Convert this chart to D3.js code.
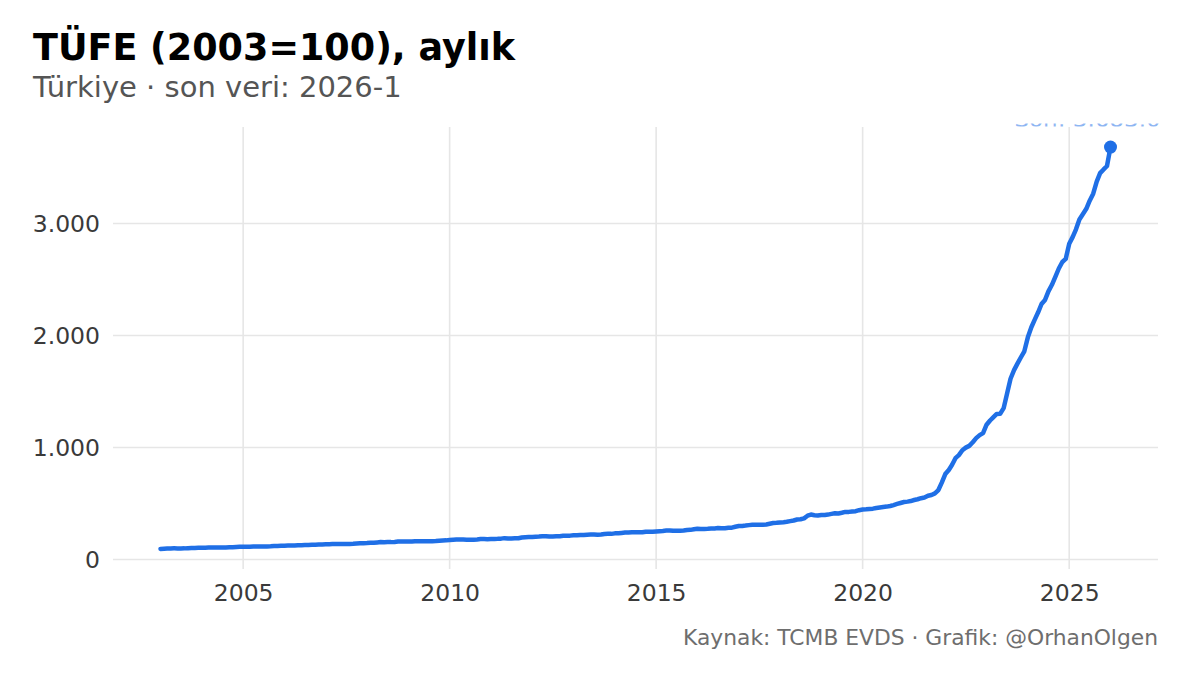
<!DOCTYPE html>
<html>
<head>
<meta charset="utf-8">
<script src="https://cdn.jsdelivr.net/npm/d3@7"></script>
<style>
    body { margin: 0; background: white; font-family: 'DejaVu Sans', sans-serif; }
</style>
</head>
<body>
<div id="chart-area"></div>
<script>

// TÜFE (2003=100) line chart, monthly

const firstYear = 2003;

// monthly index values, one row per year (Jan..Dec), last row = 2026
const tufe = [
    [94.6, 96.2, 97.9, 98.9, 99.4, 99.3, 99.1, 99.4, 101.1, 102.5, 103.6, 104.4],
    [105.0, 105.5, 106.3, 106.8, 107.3, 107.4, 107.6, 108.2, 109.0, 110.4, 112.0, 113.9],
    [114.4, 114.5, 114.8, 115.6, 116.5, 116.6, 116.2, 116.9, 118.0, 120.0, 121.4, 122.65],
    [123.6, 124.0, 124.4, 125.8, 127.9, 127.9, 129.1, 129.6, 131.0, 132.4, 134.0, 134.49],
    [135.2, 136.0, 137.5, 139.0, 139.4, 138.9, 138.2, 138.5, 139.9, 142.4, 144.6, 145.77],
    [146.9, 148.8, 150.3, 152.6, 155.3, 154.8, 155.5, 155.2, 156.6, 160.0, 161.1, 160.44],
    [160.9, 160.4, 162.1, 162.2, 163.2, 163.8, 163.4, 163.9, 164.9, 168.0, 170.7, 170.91],
    [174.1, 176.6, 177.6, 178.7, 178.0, 177.0, 176.2, 176.9, 179.1, 182.4, 182.4, 181.85],
    [182.6, 183.9, 184.7, 186.3, 190.8, 188.1, 187.3, 188.7, 189.9, 196.3, 199.7, 200.85],
    [201.9, 203.6, 205.0, 208.2, 207.9, 205.1, 204.8, 206.6, 208.1, 212.6, 213.2, 213.23],
    [216.7, 217.4, 219.8, 219.8, 222.0, 222.3, 223.0, 221.7, 224.1, 228.6, 229.0, 229.01],
    [233.5, 234.5, 237.2, 240.4, 241.3, 243.0, 243.0, 244.0, 243.2, 248.4, 248.8, 247.72],
    [250.5, 253.0, 254.9, 258.3, 259.6, 255.9, 256.2, 257.0, 259.3, 263.5, 264.6, 269.54],
    [274.2, 273.4, 272.9, 274.4, 276.7, 277.3, 280.6, 279.3, 279.5, 283.9, 284.6, 292.54],
    [299.7, 300.0, 303.0, 307.1, 311.1, 310.6, 311.1, 311.0, 313.3, 319.3, 325.3, 327.41],
    [330.8, 333.2, 336.5, 342.8, 348.3, 357.4, 359.4, 367.7, 390.8, 401.3, 395.5, 393.88],
    [398.2, 397.0, 401.0, 407.2, 413.1, 411.3, 417.6, 425.1, 425.3, 429.4, 431.4, 440.50],
    [446.4, 448.0, 450.7, 454.1, 460.0, 464.1, 468.6, 472.5, 478.1, 486.3, 496.4, 504.81],
    [513.3, 517.0, 522.1, 531.2, 538.1, 547.5, 553.4, 569.4, 576.5, 590.5, 620.5, 686.95],
    [763.2, 799.9, 843.6, 904.8, 931.8, 976.3, 999.1, 1014.6, 1046.9, 1084.0, 1110.7, 1128.45],
    [1203.5, 1241.3, 1269.8, 1300.0, 1300.6, 1351.6, 1479.8, 1614.3, 1691.0, 1749.1, 1806.5, 1859.38],
    [1984.0, 2073.9, 2139.5, 2207.5, 2281.9, 2318.0, 2394.1, 2453.5, 2526.2, 2598.8, 2657.2, 2684.55],
    [2819.7, 2881.0, 2946.5, 3036.8, 3083.1, 3132.2, 3204.0, 3267.0, 3374.1, 3450.2, 3483.3, 3513.9],
    [3683.0]
];

const xTicks = [2005, 2010, 2015, 2020, 2025];
const yTicks = [0, 1000, 2000, 3000];

const titleText = 'TÜFE (2003=100), aylık';
const subtitleText = 'Türkiye · son veri: 2026-1';
const captionText = 'Kaynak: TCMB EVDS · Grafik: @OrhanOlgen';

const lineColor = '#1f6fe6';


class LineChart {

    constructor(parentElement, data) {
        this.parentElement = parentElement;
        this.data = data;

        this.initVis()
    }

    initVis() {

        let vis = this;

        vis.margin = {top: 127, right: 42, bottom: 106, left: 113};
        vis.width = 1200 - vis.margin.left - vis.margin.right;
        vis.height = 675 - vis.margin.top - vis.margin.bottom;

        vis.root = d3.select('#' + vis.parentElement).append('svg')
            .attr('width', 1200)
            .attr('height', 675);

        vis.svg = vis.root.append('g')
            .attr('transform', `translate (${vis.margin.left}, ${vis.margin.top})`);

        // titles
        vis.root.append('text')
            .attr('x', 33)
            .attr('y', 60)
            .text(titleText)
            .style('font-size', '36.5px')
            .style('font-weight', 700)
            .style('fill', '#000');

        vis.root.append('text')
            .attr('x', 33)
            .attr('y', 97)
            .text(subtitleText)
            .style('font-size', '29px')
            .style('fill', '#555');

        vis.root.append('text')
            .attr('x', 1158)
            .attr('y', 645)
            .attr('text-anchor', 'end')
            .text(captionText)
            .style('font-size', '21.8px')
            .style('fill', '#6e6e6e');

        // scales
        vis.xScale = d3.scaleTime()
            .range([0, vis.width]);

        vis.yScale = d3.scaleLinear()
            .range([vis.height, 0]);

        vis.gridGroup = vis.svg.append('g').attr('class', 'grid');
        vis.xAxisGroup = vis.svg.append('g')
            .attr('class', 'x-axis axis')
            .attr('transform', 'translate(0, ' + vis.height + ')');
        vis.yAxisGroup = vis.svg.append('g')
            .attr('class', 'y-axis axis');

        this.wrangleData()
    }

    wrangleData() {

        let vis = this;

        vis.displayData = [];
        vis.data.forEach((row, i) => {
            row.forEach((v, m) => {
                vis.displayData.push({date: new Date(firstYear + i, m, 1), value: v});
            });
        });

        vis.updateVis()
    }

    updateVis() {

        let vis = this;

        // 5% expansion like the original
        let xExt = d3.extent(vis.displayData, d => d.date);
        let xPad = (xExt[1] - xExt[0]) * 0.05;
        vis.xScale.domain([new Date(+xExt[0] - xPad), new Date(+xExt[1] + xPad)]);

        let yExt = d3.extent(vis.displayData, d => d.value);
        let yPad = (yExt[1] - yExt[0]) * 0.05;
        vis.yScale.domain([yExt[0] - yPad, yExt[1] + yPad]);

        let tickDates = xTicks.map(y => new Date(y, 0, 1));

        // gridlines
        vis.gridGroup.selectAll('.hgrid')
            .data(yTicks)
            .enter()
            .append('line')
            .attr('class', 'hgrid')
            .attr('x1', 0)
            .attr('x2', vis.width)
            .attr('y1', d => vis.yScale(d))
            .attr('y2', d => vis.yScale(d))
            .attr('stroke', '#e6e6e6')
            .attr('stroke-width', 1.6);

        vis.gridGroup.selectAll('.vgrid')
            .data(tickDates)
            .enter()
            .append('line')
            .attr('class', 'vgrid')
            .attr('x1', d => vis.xScale(d))
            .attr('x2', d => vis.xScale(d))
            .attr('y1', 0)
            .attr('y2', vis.height)
            .attr('stroke', '#e6e6e6')
            .attr('stroke-width', 1.6);

        // axes
        vis.xAxisGroup
            .call(d3.axisBottom(vis.xScale)
                .tickValues(tickDates)
                .tickFormat(d3.timeFormat('%Y'))
                .tickSize(0)
                .tickPadding(15));

        vis.yAxisGroup
            .call(d3.axisLeft(vis.yScale)
                .tickValues(yTicks)
                .tickFormat(d => d3.format(',')(d).replace(/,/g, '.'))
                .tickSize(0)
                .tickPadding(13));

        vis.svg.selectAll('.axis .domain').remove();
        vis.svg.selectAll('.axis text')
            .style('font-family', 'DejaVu Sans, sans-serif')
            .style('font-size', '23.5px')
            .style('fill', '#3a3a3a');

        // the line
        let line = d3.line()
            .x(d => vis.xScale(d.date))
            .y(d => vis.yScale(d.value));

        vis.svg.append('path')
            .datum(vis.displayData)
            .attr('fill', 'none')
            .attr('stroke', lineColor)
            .attr('stroke-width', 4.5)
            .attr('stroke-linejoin', 'round')
            .attr('stroke-linecap', 'round')
            .attr('d', line);

        let last = vis.displayData[vis.displayData.length - 1];

        vis.svg.append('circle')
            .attr('cx', vis.xScale(last.date))
            .attr('cy', vis.yScale(last.value))
            .attr('r', 6.5)
            .attr('fill', lineColor);

        // end label, only its bottom edge is left above the panel
        let strip = vis.svg.append('svg')
            .attr('x', 0)
            .attr('y', -3.5)
            .attr('width', vis.width + 4)
            .attr('height', 3)
            .style('overflow', 'hidden');

        strip.append('text')
            .attr('x', vis.xScale(last.date) - 23)
            .attr('y', 3)
            .attr('text-anchor', 'middle')
            .text('Son: ' + d3.format(',.1f')(last.value).replace(/,/g, '#').replace('.', ',').replace(/#/g, '.'))
            .style('font-size', '23px')
            .style('fill', lineColor)
            .style('opacity', 0.5);
    }
}

new LineChart('chart-area', tufe);

</script>
</body>
</html>
